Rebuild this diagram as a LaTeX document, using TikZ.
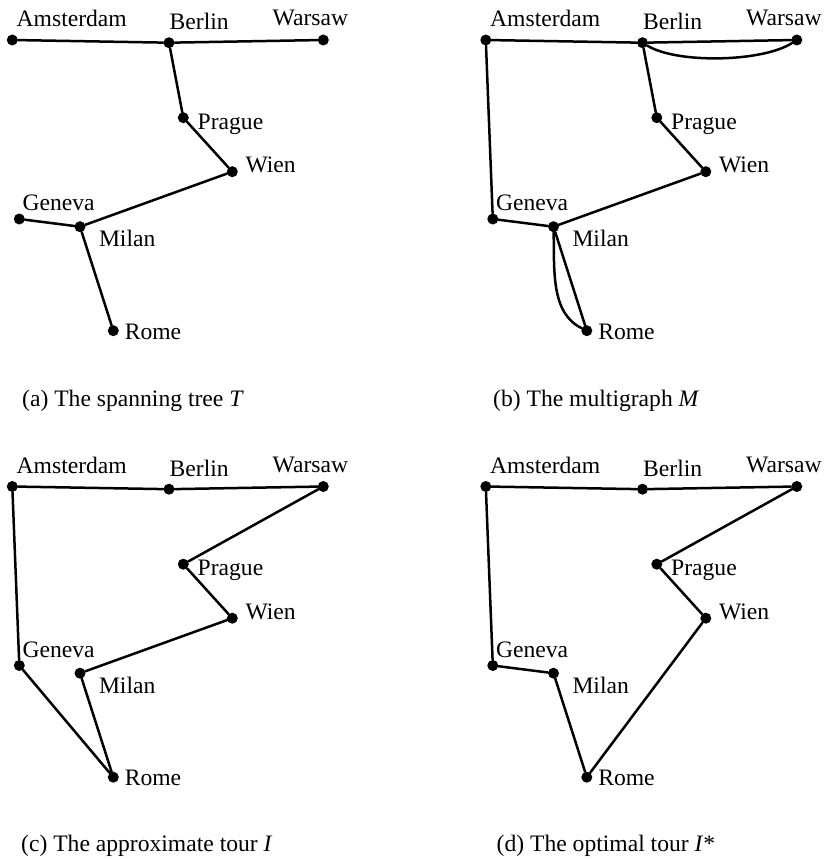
\documentclass[tikz,border=0pt]{standalone}
\usepackage{fontspec}
\setmainfont{Liberation Serif}
\newcommand\citysize{\fontsize{23.6}{28}\selectfont}
\tikzset{
  city/.style={circle,fill=black,inner sep=0pt,minimum size=11pt},
  lbl/.style={anchor=base west,inner sep=0pt,font=\citysize},
  captext/.style={anchor=base west,inner sep=0pt,font=\citysize},
  edge/.style={line width=2.5pt,line cap=round,line join=round},
}
\newcommand\placecities[1]{%
  \node[city] (#1ams) at (12.3,40) {};
  \node[city] (#1ber) at (169,42.7) {};
  \node[city] (#1war) at (323.3,40) {};
  \node[city] (#1pra) at (183.3,117.7) {};
  \node[city] (#1wie) at (232.3,171.7) {};
  \node[city] (#1gen) at (19.3,219) {};
  \node[city] (#1mil) at (80,226.7) {};
  \node[city] (#1rom) at (113.3,330.7) {};
  \node[lbl] (#1amsL) at (16.5,26.7) {Amsterdam};
  \node[lbl] (#1berL) at (169.5,30) {Berlin};
  \node[lbl] (#1warL) at (272.5,26) {Warsaw};
  \node[lbl] (#1praL) at (197.5,129) {Prague};
  \node[lbl] (#1wieL) at (245.3,172.7) {Wien};
  \node[lbl] (#1genL) at (22.3,210.7) {Geneva};
  \node[lbl] (#1milL) at (98.8,246.7) {Milan};
  \node[lbl] (#1romL) at (124.6,339) {Rome};
}
\begin{document}
\begin{tikzpicture}[x=1pt,y=-1pt]
\useasboundingbox (0,0) rectangle (823,859);
% (a) spanning tree
\begin{scope}
  \placecities{a}
  \draw[edge] (aams) -- (aber) -- (awar);
  \draw[edge] (aber) -- (apra) -- (awie) -- (amil) -- (agen);
  \draw[edge] (amil) -- (arom);
\end{scope}
% (b) multigraph
\begin{scope}[shift={(473.5,0)}]
  \placecities{b}
  \draw[edge] (bams) -- (bber) -- (bwar);
  \draw[edge] (bber) -- (bpra) -- (bwie) -- (bmil) -- (bgen) -- (bams);
  \draw[edge] (bmil) -- (brom);
  \draw[edge] (bber) .. controls (204,64) and (289,62) .. (bwar);
  \draw[edge] (bmil) .. controls (81,270) and (77,313) .. (brom);
\end{scope}
% (c) approximate tour
\begin{scope}[shift={(0,446.5)}]
  \placecities{c}
  \draw[edge] (cams) -- (cber) -- (cwar) -- (cpra) -- (cwie) -- (cmil) -- (crom) -- (cgen) -- (cams);
\end{scope}
% (d) optimal tour
\begin{scope}[shift={(473.5,446.5)}]
  \placecities{d}
  \draw[edge] (dams) -- (dber) -- (dwar) -- (dpra) -- (dwie) -- (drom) -- (dmil) -- (dgen) -- (dams);
\end{scope}
\node[captext] (capa) at (22,406) {(a) The spanning tree \textit{T}};
\node[captext] (capb) at (493,406) {(b) The multigraph \textit{M}};
\node[captext] (capc) at (21,851) {(c) The approximate tour \textit{I}};
\node[captext] (capd) at (496.5,851) {(d) The optimal tour \textit{I}*};
\end{tikzpicture}
\end{document}
